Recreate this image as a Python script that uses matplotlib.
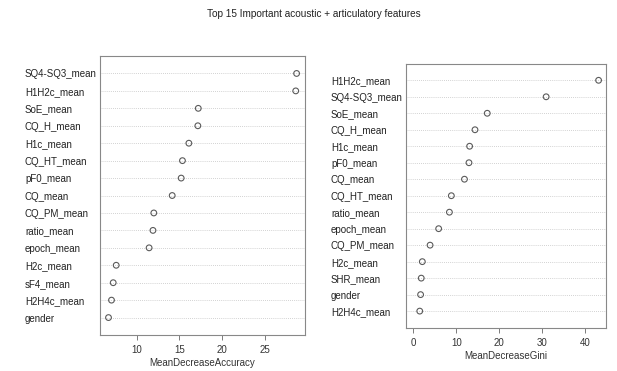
import matplotlib
matplotlib.use("Agg")
import matplotlib.pyplot as plt

plt.rcParams['font.family'] = ['Liberation Sans', 'DejaVu Sans']

TITLE = "Top 15 Important acoustic + articulatory features"

# importance by mean decrease in accuracy (top row first)
acc_features = ["SQ4-SQ3_mean", "H1H2c_mean", "SoE_mean", "CQ_H_mean", "H1c_mean",
                "CQ_HT_mean", "pF0_mean", "CQ_mean", "CQ_PM_mean", "ratio_mean",
                "epoch_mean", "H2c_mean", "sF4_mean", "H2H4c_mean", "gender"]
acc_values = [28.7, 28.6, 17.2, 17.15, 16.1, 15.35, 15.2, 14.15, 12.0, 11.9,
              11.45, 7.6, 7.25, 7.05, 6.7]

# importance by mean decrease in Gini
gini_features = ["H1H2c_mean", "SQ4-SQ3_mean", "SoE_mean", "CQ_H_mean", "H1c_mean",
                 "pF0_mean", "CQ_mean", "CQ_HT_mean", "ratio_mean", "epoch_mean",
                 "CQ_PM_mean", "H2c_mean", "SHR_mean", "gender", "H2H4c_mean"]
gini_values = [43.1, 30.9, 17.2, 14.35, 13.1, 12.95, 11.9, 8.85, 8.4, 5.9,
               3.9, 2.1, 1.85, 1.7, 1.5]


def dotchart(ax, features, values, xlabel, xlim, xticks):
    n = len(features)
    ys = [n - i for i in range(n)]
    for y in ys:
        ax.axhline(y, color="#c4c4c4", lw=0.6, ls=(0, (1, 1.5)), zorder=1)
    ax.scatter(values, ys, s=17, facecolors="none", edgecolors="#5a5a5a",
               linewidths=0.8, zorder=3)
    ax.set_ylim(0, n + 1)
    ax.set_xlim(*xlim)
    ax.set_xticks(xticks)
    ax.set_yticks(ys)
    ax.set_yticklabels(features)
    for lab in ax.get_yticklabels():
        lab.set_horizontalalignment("left")
    ax.tick_params(axis="y", length=0, pad=54, labelsize=7, labelcolor="#222222")
    ax.tick_params(axis="x", length=3.5, width=0.6, color="#666666",
                   labelsize=7, labelcolor="#333333", pad=4)
    ax.set_xlabel(xlabel, fontsize=7, color="#333333", labelpad=2)
    for sp in ax.spines.values():
        sp.set_color("#888888")
        sp.set_linewidth(0.8)


fig = plt.figure(figsize=(6.17, 3.71), dpi=100)
fig.text(0.508, 0.963, TITLE, ha="center", va="center", fontsize=7.2, color="#222222")

ax1 = fig.add_axes([0.162, 0.097, 0.332, 0.752])
dotchart(ax1, acc_features, acc_values, "MeanDecreaseAccuracy",
         (5.7, 29.66), [10, 15, 20, 25])

ax2 = fig.add_axes([0.658, 0.117, 0.324, 0.711])
dotchart(ax2, gini_features, gini_values, "MeanDecreaseGini",
         (-1.7, 44.8), [0, 10, 20, 30, 40])

fig.savefig("out.png", dpi=100)
